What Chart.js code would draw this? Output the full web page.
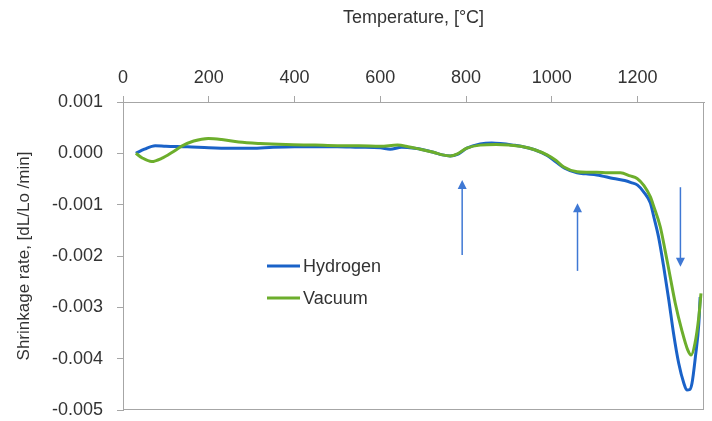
<!DOCTYPE html>
<html lang="en">
<head>
  <meta charset="UTF-8">
  <title>Shrinkage rate</title>
  <script src="https://cdn.jsdelivr.net/npm/chart.js"></script>
  <style>
    body { margin: 0; background: #fff; }
    canvas { display: block; }
  </style>
</head>
<body>
  <canvas id="chart" width="712" height="421"></canvas>
  <script>
    // Temperature [°C] and shrinkage rate [dL/Lo /min]
    const hydrogenT = [30, 50, 75, 100, 150, 200, 250, 300, 350, 400, 450, 500, 550, 600, 623, 650, 680, 700, 724, 745, 763, 780, 802, 833, 860, 880, 910, 933, 960, 989, 1010, 1030, 1059, 1080, 1105, 1144, 1170, 1185, 1200, 1215, 1230, 1238, 1249, 1261, 1273, 1284, 1296, 1308, 1315, 1322, 1327, 1335, 1343, 1346];
    const hydrogenRate = [0, 0.00008, 0.00015, 0.00014, 0.00013, 0.00011, 0.0001, 0.0001, 0.00012, 0.00013, 0.00013, 0.00013, 0.00012, 0.00011, 0.00008, 0.00012, 0.0001, 0.00007, 0.00002, -0.00003, -0.00005, -0.00002, 0.0001, 0.00018, 0.0002, 0.00019, 0.00016, 0.00013, 0.00007, -0.00004, -0.00017, -0.00029, -0.00038, -0.0004, -0.00042, -0.00049, -0.00053, -0.00057, -0.00062, -0.00076, -0.00097, -0.00124, -0.00163, -0.00221, -0.00286, -0.00351, -0.00409, -0.00448, -0.00461, -0.0046, -0.00448, -0.00396, -0.00331, -0.0028];

    const vacuumT = [30, 45, 67, 90, 115, 137, 165, 199, 230, 270, 320, 380, 448, 500, 550, 600, 640, 665, 693, 724, 745, 763, 780, 802, 833, 870, 900, 933, 960, 989, 1010, 1027, 1059, 1080, 1105, 1130, 1160, 1183, 1199, 1215, 1230, 1238, 1253, 1264, 1276, 1288, 1303, 1317, 1325, 1334, 1343, 1348];
    const vacuumRate = [0, -0.00009, -0.00016, -0.0001, 0.00002, 0.00014, 0.00024, 0.00029, 0.00027, 0.00022, 0.00019, 0.00017, 0.00016, 0.00015, 0.00015, 0.00014, 0.00016, 0.00013, 0.00008, 0.00002, -0.00003, -0.00005, -0.00001, 0.0001, 0.00016, 0.00017, 0.00016, 0.00013, 0.00007, -0.00003, -0.00014, -0.00026, -0.00036, -0.00037, -0.00037, -0.00038, -0.00038, -0.00044, -0.00049, -0.00063, -0.00085, -0.00104, -0.00143, -0.00188, -0.0024, -0.00292, -0.00344, -0.00383, -0.00393, -0.0037, -0.00318, -0.00273];

    const seriesNames = ['Hydrogen', 'Vacuum'];
    const xTicks = [0, 200, 400, 600, 800, 1000, 1200];

    // arrows: [temperature, tail rate, head rate]
    const arrows = [
      [791, -0.00198, -0.00052],
      [1060, -0.00229, -0.00097],
      [1300, -0.00066, -0.00221]
    ];

    const BLUE = '#1a62c8';
    const GREEN = '#6cae2c';
    const ARROW = '#3f78d4';
    const AXIS = '#a6a6a6';
    const TEXT = '#333333';
    const FONT = 'Liberation Sans, Arial, sans-serif';

    const toPoints = (xs, ys) => xs.map((x, i) => ({ x: x, y: ys[i] }));

    const extras = {
      id: 'extras',
      afterDraw(chart) {
        const ctx = chart.ctx;
        const a = chart.chartArea;
        const xs = chart.scales.x, ys = chart.scales.y;
        ctx.save();
        // plot frame
        ctx.strokeStyle = AXIS;
        ctx.lineWidth = 1;
        ctx.strokeRect(a.left + 0.5, a.top + 0.5, a.right - a.left - 1, a.bottom - a.top - 1);

        // arrows
        ctx.strokeStyle = ARROW;
        ctx.fillStyle = ARROW;
        arrows.forEach(([t, from, to]) => {
          const px = xs.getPixelForValue(t);
          const y0 = ys.getPixelForValue(from);
          const y1 = ys.getPixelForValue(to);
          const dir = y1 < y0 ? -1 : 1;
          ctx.lineWidth = 1.5;
          ctx.beginPath();
          ctx.moveTo(px, y0);
          ctx.lineTo(px, y1 - dir * 8);
          ctx.stroke();
          ctx.beginPath();
          ctx.moveTo(px, y1);
          ctx.lineTo(px - 4.5, y1 - dir * 9);
          ctx.lineTo(px + 4.5, y1 - dir * 9);
          ctx.closePath();
          ctx.fill();
        });

        // legend inside the plot
        const colors = [BLUE, GREEN];
        ctx.font = '18px ' + FONT;
        ctx.textBaseline = 'middle';
        ctx.textAlign = 'left';
        seriesNames.forEach((name, i) => {
          const y = 266 + i * 32;
          ctx.strokeStyle = colors[i];
          ctx.lineWidth = 3;
          ctx.beginPath();
          ctx.moveTo(267, y);
          ctx.lineTo(300, y);
          ctx.stroke();
          ctx.fillStyle = TEXT;
          ctx.fillText(name, 303, y + 1);
        });
        ctx.restore();
      }
    };

    new Chart(document.getElementById('chart'), {
      type: 'scatter',
      data: {
        datasets: [
          {
            label: seriesNames[0],
            data: toPoints(hydrogenT, hydrogenRate),
            showLine: true,
            borderColor: BLUE,
            borderWidth: 3,
            pointRadius: 0,
            cubicInterpolationMode: 'monotone',
            order: 1
          },
          {
            label: seriesNames[1],
            data: toPoints(vacuumT, vacuumRate),
            showLine: true,
            borderColor: GREEN,
            borderWidth: 3,
            pointRadius: 0,
            cubicInterpolationMode: 'monotone',
            order: 0
          }
        ]
      },
      options: {
        responsive: false,
        animation: false,
        layout: { padding: { left: 0, top: 0, right: 8, bottom: 11 } },
        plugins: { legend: { display: false }, tooltip: { enabled: false } },
        scales: {
          x: {
            type: 'linear',
            position: 'top',
            min: 0,
            max: 1355,
            afterBuildTicks: s => { s.ticks = xTicks.map(v => ({ value: v })); },
            afterFit: s => { s.height = 102; s.paddingLeft = 0; s.paddingRight = 0; },
            grid: { drawOnChartArea: false, color: AXIS, tickLength: 6 },
            border: { color: AXIS },
            ticks: {
              color: TEXT,
              font: { family: FONT, size: 18 },
              padding: 7,
              maxRotation: 0,
              callback: v => String(v)
            },
            title: {
              display: true,
              text: 'Temperature, [°C]',
              color: TEXT,
              font: { family: FONT, size: 18 },
              padding: { top: 7, bottom: 0 }
            }
          },
          y: {
            min: -0.005,
            max: 0.001,
            afterFit: s => { s.width = 123; s.paddingTop = 0; s.paddingBottom = 0; },
            grid: { drawOnChartArea: false, color: AXIS, tickLength: 6 },
            border: { color: AXIS },
            ticks: {
              stepSize: 0.001,
              color: TEXT,
              font: { family: FONT, size: 18 },
              padding: 14,
              callback: v => (Math.abs(v) < 1e-9 ? 0 : v).toFixed(3)
            },
            title: {
              display: true,
              text: 'Shrinkage rate, [dL/Lo /min]',
              color: TEXT,
              font: { family: FONT, size: 17 },
              padding: { top: 14, bottom: 0 }
            }
          }
        }
      },
      plugins: [extras]
    });
  </script>
</body>
</html>
